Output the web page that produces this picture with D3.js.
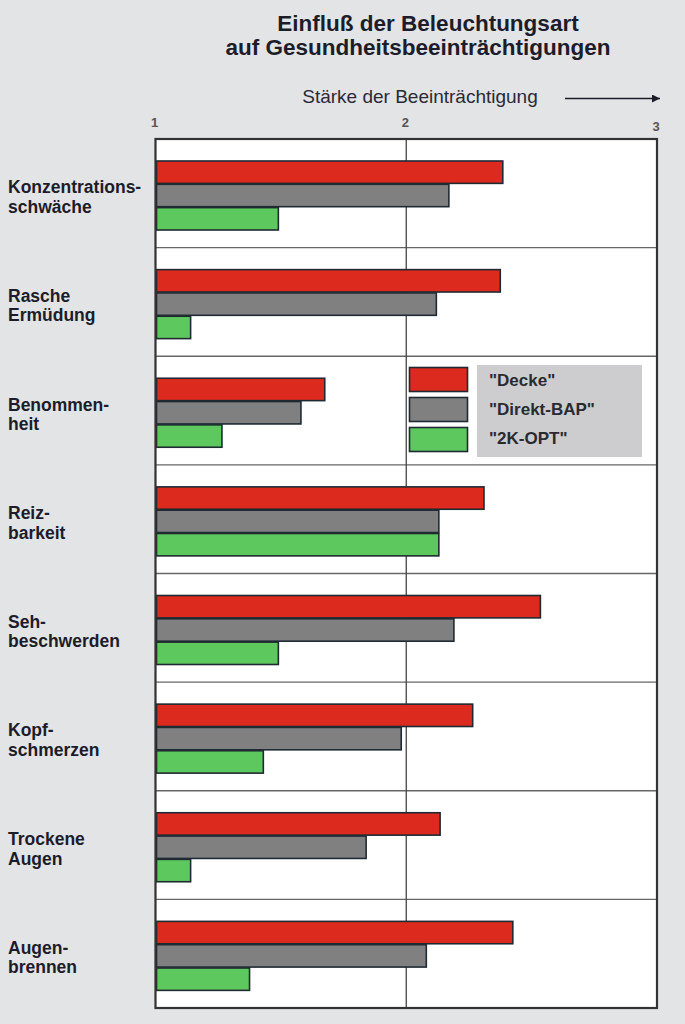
<!DOCTYPE html>
<html>
<head>
<meta charset="utf-8">
<script src="https://cdn.jsdelivr.net/npm/d3@7"></script>
<style>
  body { margin: 0; background: #e3e4e6; }
  svg { display: block; }
  text { font-family: "Liberation Sans", Arial, sans-serif; }
</style>
</head>
<body>
<script>
// categories (two-line labels) and series
const categories = [
  ['Konzentrations-', 'schwäche'],
  ['Rasche', 'Ermüdung'],
  ['Benommen-', 'heit'],
  ['Reiz-', 'barkeit'],
  ['Seh-', 'beschwerden'],
  ['Kopf-', 'schmerzen'],
  ['Trockene', 'Augen'],
  ['Augen-', 'brennen']
];
const seriesNames = ['"Decke"', '"Direkt-BAP"', '"2K-OPT"'];
const decke = [2.385, 2.375, 1.675, 2.31, 2.535, 2.265, 2.135, 2.425];
const direktBap = [2.17, 2.12, 1.58, 2.13, 2.19, 1.98, 1.84, 2.08];
const zweiKOpt = [1.49, 1.14, 1.265, 2.13, 1.49, 1.43, 1.14, 1.375];
const ticks = [1, 2, 3];
const colors = ['#dc2b1e', '#808080', '#5cc85e'];

const width = 685;
const height = 1024;
const margin = { top: 139, right: 28, bottom: 16, left: 155.5 };

const svg = d3.select('body')
  .append('svg')
  .attr('width', width)
  .attr('height', height);

// title
svg.append('text')
  .attr('x', 428).attr('y', 31)
  .attr('text-anchor', 'middle')
  .attr('font-size', 22.5).attr('font-weight', 'bold')
  .attr('fill', '#1c1c2a')
  .text('Einfluß der Beleuchtungsart');
svg.append('text')
  .attr('x', 418).attr('y', 55)
  .attr('text-anchor', 'middle')
  .attr('font-size', 22.5).attr('font-weight', 'bold')
  .attr('fill', '#1c1c2a')
  .text('auf Gesundheitsbeeinträchtigungen');

// axis title with arrow
svg.append('text')
  .attr('x', 420).attr('y', 103)
  .attr('text-anchor', 'middle')
  .attr('font-size', 19)
  .attr('fill', '#2a2a35')
  .text('Stärke der Beeinträchtigung');

svg.append('defs').append('marker')
  .attr('id', 'arrow')
  .attr('viewBox', '0 0 10 10')
  .attr('refX', 10).attr('refY', 5)
  .attr('markerWidth', 16).attr('markerHeight', 8)
  .attr('markerUnits', 'userSpaceOnUse')
  .attr('orient', 'auto')
  .append('path')
  .attr('d', 'M0,0L10,5L0,10Z')
  .attr('fill', '#1c1c2a');

svg.append('line')
  .attr('x1', 565).attr('x2', 660)
  .attr('y1', 98.5).attr('y2', 98.5)
  .attr('stroke', '#1c1c2a').attr('stroke-width', 1.4)
  .attr('marker-end', 'url(#arrow)');

// scales
const x = d3.scaleLinear()
  .domain([1, 3])
  .range([margin.left, width - margin.right]);

const y = d3.scaleBand()
  .domain(d3.range(categories.length))
  .range([margin.top, height - margin.bottom]);

const inner = d3.scaleBand()
  .domain(d3.range(seriesNames.length))
  .range([22, 91])
  .paddingInner(0.04);

// plot background
svg.append('rect')
  .attr('x', x(1)).attr('y', margin.top)
  .attr('width', x(3) - x(1))
  .attr('height', height - margin.bottom - margin.top)
  .attr('fill', '#fff');

// tick labels
svg.selectAll('.tick-label')
  .data(ticks)
  .join('text')
  .attr('class', 'tick-label')
  .attr('x', (d) => x(d) - 1)
  .attr('y', (d) => (d === 3 ? 131 : 127))
  .attr('text-anchor', 'middle')
  .attr('font-size', 13).attr('font-weight', 'bold')
  .attr('fill', '#555')
  .text((d) => d);

// row separators
svg.selectAll('.row-line')
  .data(d3.range(1, categories.length))
  .join('line')
  .attr('class', 'row-line')
  .attr('x1', x(1)).attr('x2', x(3))
  .attr('y1', (d) => y(d)).attr('y2', (d) => y(d))
  .attr('stroke', '#666').attr('stroke-width', 1.3);

// vertical grid line at 2
svg.append('line')
  .attr('x1', x(2)).attr('x2', x(2))
  .attr('y1', margin.top).attr('y2', height - margin.bottom)
  .attr('stroke', '#444').attr('stroke-width', 1.3);

// bars
const series = [decke, direktBap, zweiKOpt];
series.forEach((values, s) => {
  svg.selectAll(`.bar-${s}`)
    .data(values)
    .join('rect')
    .attr('class', `bar-${s}`)
    .attr('x', x(1) + 1)
    .attr('y', (d, i) => y(i) + inner(s))
    .attr('width', (d) => x(d) - x(1) - 1)
    .attr('height', inner.bandwidth())
    .attr('fill', colors[s])
    .attr('stroke', '#1f2a33')
    .attr('stroke-width', 1.6);
});

// frame
svg.append('rect')
  .attr('x', x(1)).attr('y', margin.top)
  .attr('width', x(3) - x(1))
  .attr('height', height - margin.bottom - margin.top)
  .attr('fill', 'none')
  .attr('stroke', '#333').attr('stroke-width', 2.2);

// category labels
const labels = svg.selectAll('.cat')
  .data(categories)
  .join('text')
  .attr('class', 'cat')
  .attr('x', 8)
  .attr('y', (d, i) => y(i) + y.bandwidth() / 2)
  .attr('font-size', 17.5).attr('font-weight', 'bold')
  .attr('fill', '#1c1c2a');
labels.selectAll('tspan')
  .data((d) => d)
  .join('tspan')
  .attr('x', 8)
  .attr('dy', (d, j) => (j === 0 ? 0 : 19.5))
  .text((d) => d);

// legend
const legend = svg.append('g');
legend.append('rect')
  .attr('x', 477).attr('y', 365)
  .attr('width', 165).attr('height', 92)
  .attr('fill', '#cdcdcf');
seriesNames.forEach((name, s) => {
  legend.append('rect')
    .attr('x', 409.5).attr('y', 367.5 + s * 30)
    .attr('width', 58).attr('height', 24)
    .attr('fill', colors[s])
    .attr('stroke', '#1f2a33').attr('stroke-width', 1.6);
  legend.append('text')
    .attr('x', 489).attr('y', 386 + s * 29)
    .attr('font-size', 17).attr('font-weight', 'bold')
    .attr('fill', '#2a2a30')
    .text(name);
});
</script>
</body>
</html>
